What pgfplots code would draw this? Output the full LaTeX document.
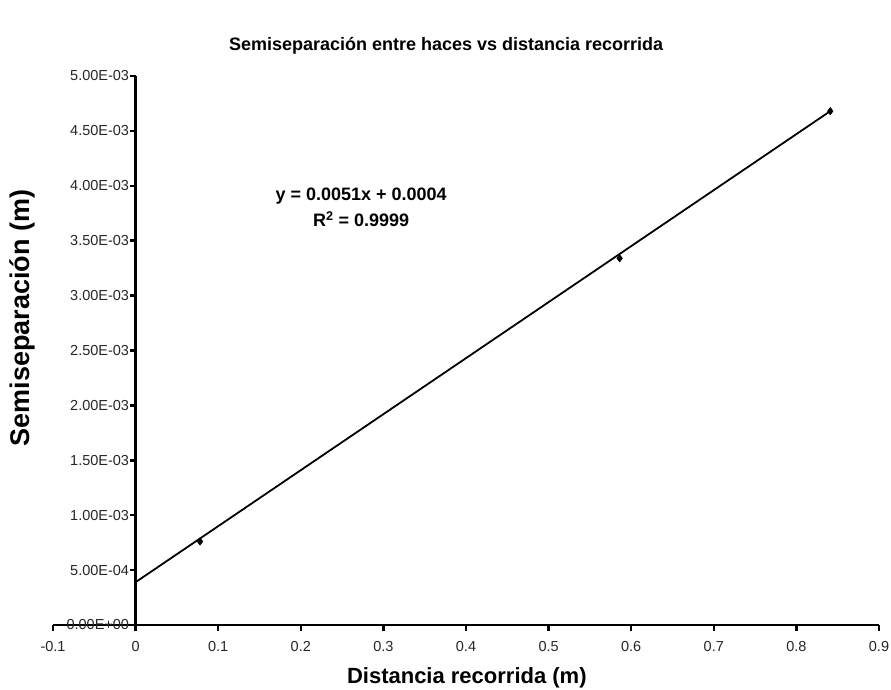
\documentclass[border=0pt]{standalone}
\usepackage{pgfplots}
\pgfplotsset{compat=1.18}
\usepackage{fontspec}
\setmainfont{Liberation Sans}
\begin{document}
\begin{tikzpicture}
\useasboundingbox (-53pt,-64pt) rectangle (838pt,625pt);
\begin{axis}[
  at={(0pt,0pt)}, anchor=south west,
  scale only axis, width=826pt, height=549pt,
  xmin=-0.1, xmax=0.9, ymin=0, ymax=0.005,
  axis x line=bottom, axis y line=middle,
  axis line style={-, line width=2.8pt, black},
  hide obscured x ticks=false, hide obscured y ticks=false,
  tick align=outside, major tick length=6pt,
  tick style={line width=2.5pt, black},
  xtick={-0.1,0,0.1,0.2,0.3,0.4,0.5,0.6,0.7,0.8,0.9},
  xticklabels={-0.1,0,0.1,0.2,0.3,0.4,0.5,0.6,0.7,0.8,0.9},
  ytick={0,0.0005,0.001,0.0015,0.002,0.0025,0.003,0.0035,0.004,0.0045,0.005},
  yticklabels={0.00E+00,5.00E-04,1.00E-03,1.50E-03,2.00E-03,2.50E-03,3.00E-03,3.50E-03,4.00E-03,4.50E-03,5.00E-03},
  scaled y ticks=false,
  tick label style={font=\fontsize{14.5}{16}\selectfont, text=black!85},
  xticklabel style={yshift=-7pt},
  yticklabel style={xshift=3pt},
  title={Semiseparación entre haces vs distancia recorrida},
  title style={at={(axis description cs:0.476,1.045)}, anchor=center, font=\bfseries\fontsize{18}{20}\selectfont},
  xlabel={Distancia recorrida (m)},
  xlabel style={at={(axis description cs:0.501,-0.0965)}, anchor=center, font=\bfseries\fontsize{22}{24}\selectfont},
  ylabel={Semiseparación (m)},
  ylabel style={at={(axis description cs:-0.0375,0.559)}, anchor=center, rotate=90, font=\bfseries\fontsize{27}{29}\selectfont},
  clip=false,
]
\addplot[black, line width=1.8pt, no marks] coordinates {(0,0.00039) (0.841,0.00468)};
\addplot[only marks, mark=diamond*, mark size=3.8pt, black] coordinates {
  (0.078,0.00076) (0.586,0.00334) (0.841,0.00468)};
\node[align=center, font=\bfseries\fontsize{18}{26}\selectfont] at (axis cs:0.273,0.0038)
  {y = 0.0051x + 0.0004\\R\textsuperscript{2} = 0.9999};
\end{axis}
\end{tikzpicture}
\end{document}
